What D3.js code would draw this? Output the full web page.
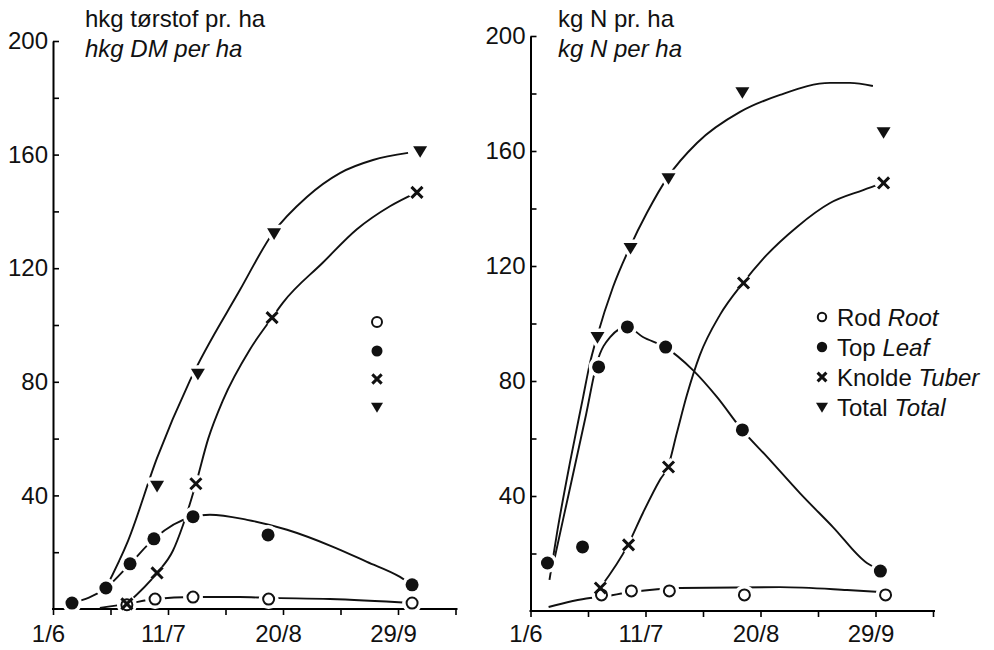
<!DOCTYPE html>
<html>
<head>
<meta charset="utf-8">
<script src="https://cdn.jsdelivr.net/npm/d3@7"></script>
<style>
body { margin: 0; background: #fff; }
svg text { font-family: "Liberation Sans", Arial, Helvetica, sans-serif; fill: #111; }
</style>
</head>
<body>
<div id="chart"></div>
<script>
// x = days after 1 June
var tickDays = [0, 40, 80, 120];
var tickLabels = ["1/6", "11/7", "20/8", "29/9"];
var yLabels = [40, 80, 120, 160, 200];

// left panel: hkg dry matter per ha (measured points)
var dmRootDays  = [25.7, 35.5, 48.7, 75.0, 124.9];
var dmRootVals  = [1.5, 3.5, 4.2, 3.5, 2.1];
var dmLeafDays  = [6.6, 18.4, 26.8, 35.1, 48.7, 74.8, 124.9];
var dmLeafVals  = [2.1, 7.4, 15.9, 24.7, 32.5, 26.1, 8.5];
var dmTuberDays = [25.7, 36.2, 49.7, 76.2, 126.6];
var dmTuberVals = [1.8, 12.7, 44.1, 102.6, 146.7];
var dmTotalDays = [36.2, 50.4, 76.9, 127.7];
var dmTotalVals = [43.4, 82.9, 132.3, 161.2];

// left panel: hand drawn curves
var dmRootFitDays  = [16.3, 25.7, 35.5, 48.7, 65, 75, 96.3, 124.9];
var dmRootFitVals  = [0.4, 1.8, 3.5, 4.2, 4.2, 3.9, 3.5, 2.1];
var dmLeafFitDays  = [6.6, 18.4, 26.8, 35.1, 48.7, 54.6, 67.5, 81.4, 97.4, 109.2, 120.7, 124.9];
var dmLeafFitVals  = [2.1, 7.4, 15.9, 24.7, 32.5, 33.2, 31.4, 27.9, 21.9, 16.6, 11.3, 8.5];
var dmTuberFitDays = [25.7, 36.2, 41.7, 45.2, 49.7, 54.0, 59.1, 68.5, 76.2, 80.0, 93.9, 105.7, 117.2, 126.6];
var dmTuberFitVals = [1.8, 12.7, 20.5, 29.5, 44.1, 60.0, 73.5, 91.4, 102.6, 107.9, 122.0, 133.7, 141.8, 146.7];
var dmTotalFitDays = [18.4, 26.1, 36.2, 47.7, 65.0, 76.5, 88.3, 99.8, 111.3, 123.5];
var dmTotalFitVals = [7.4, 24.0, 53.2, 80.6, 112.3, 132.4, 145.1, 153.5, 158.1, 160.6];

// right panel: kg N per ha (measured points)
var nRootDays  = [24.7, 35.1, 48.3, 74.4, 123.5];
var nRootVals  = [5.6, 7.0, 7.0, 5.6, 5.6];
var nLeafDays  = [5.9, 18.1, 23.7, 33.7, 47.0, 73.7, 121.7];
var nLeafVals  = [16.7, 22.3, 84.9, 98.8, 91.8, 63.0, 13.9];
var nTuberDays = [24.3, 34.1, 48.0, 74.1, 122.8];
var nTuberVals = [8.0, 23.0, 50.1, 114.1, 148.9];
var nTotalDays = [23.3, 34.8, 48.0, 73.7, 122.8];
var nTotalVals = [95.3, 126.3, 150.6, 180.5, 166.6];

// right panel: curves
var nRootFitDays  = [6.3, 20.7, 24.5, 35.0, 52.0, 86.8, 110.1, 121.6];
var nRootFitVals  = [1.4, 4.5, 4.9, 6.6, 8.0, 8.3, 7.3, 6.6];
var nLeafFitDays  = [7.5, 11.3, 19.3, 23.1, 27.7, 33.6, 39.1, 46.8, 56.5, 64.9, 73.6, 82.3, 93.7, 105.2, 117.0, 121.6];
var nLeafFitVals  = [14.3, 31.7, 68.2, 86.3, 95.3, 98.8, 95.3, 91.8, 83.8, 74.4, 63.0, 53.6, 41.0, 29.2, 16.7, 14.3];
var nTuberFitDays = [24.2, 33.9, 39.1, 45.0, 47.8, 50.9, 54.4, 58.9, 65.9, 73.9, 80.9, 92.7, 104.2, 115.7, 122.6];
var nTuberFitVals = [8.0, 23.0, 34.1, 45.6, 50.1, 61.9, 75.1, 89.0, 103.0, 114.1, 122.5, 133.6, 141.9, 146.4, 148.9];
var nTotalFitDays = [6.6, 9.4, 13.7, 18.3, 20.7, 23.1, 28.7, 34.6, 40.5, 47.8, 57.9, 72.9, 86.8, 104.2, 111.1, 119.1];
var nTotalFitVals = [10.8, 28.2, 51.5, 74.4, 86.3, 95.3, 112.7, 126.6, 138.5, 151.0, 162.8, 173.6, 179.5, 183.7, 183.7, 182.6];

var legendNames = ["Rod", "Top", "Knolde", "Total"];
var legendNamesEn = ["Root", "Leaf", "Tuber", "Total"];
var legendTypes = ["open", "dot", "cross", "tri"];

var svg = d3.select("#chart").append("svg")
    .attr("width", 994)
    .attr("height", 650)
    .style("background", "#fff");

// draw one marker symbol, optionally as a white halo
function marker(g, type, cx, cy, s, halo) {
    var col = halo ? "#fff" : "#111";
    var extra = halo ? 7 : 0;
    if (type === "open") {
        g.append("circle").attr("cx", cx).attr("cy", cy).attr("r", s)
            .attr("fill", "#fff").attr("stroke", col).attr("stroke-width", 2 + extra);
    } else if (type === "dot") {
        g.append("circle").attr("cx", cx).attr("cy", cy).attr("r", s)
            .attr("fill", col).attr("stroke", col).attr("stroke-width", extra);
    } else if (type === "cross") {
        var h = s * 0.85;
        g.append("path")
            .attr("d", "M" + (cx - h) + "," + (cy - h) + "L" + (cx + h) + "," + (cy + h) +
                       "M" + (cx - h) + "," + (cy + h) + "L" + (cx + h) + "," + (cy - h))
            .attr("stroke", col).attr("stroke-width", 3 + extra).attr("fill", "none");
    } else {
        g.append("path")
            .attr("d", "M" + (cx - s) + "," + (cy - 0.7 * s) + "L" + (cx + s) + "," + (cy - 0.7 * s) +
                       "L" + cx + "," + (cy + 0.95 * s) + "Z")
            .attr("fill", col).attr("stroke", col).attr("stroke-width", extra).attr("stroke-linejoin", "round");
    }
}

function draw_panel(p) {
    var x = d3.scaleLinear().domain([0, 140]).range([p.left, p.left + 140 * 2.875]);
    var y = d3.scaleLinear().domain([0, 200]).range([p.bottom, p.top]);
    var g = svg.append("g");

    // y axis, ticks inside
    var ya = g.append("g")
        .attr("transform", "translate(" + p.left + ",0)")
        .call(d3.axisLeft(y)
            .tickValues(d3.range(20, 201, 20))
            .tickSize(-6)
            .tickSizeOuter(0)
            .tickPadding(5)
            .tickFormat(function (d) { return yLabels.indexOf(d) >= 0 ? d : ""; }));
    ya.select(".domain").attr("stroke-width", 2);
    ya.selectAll(".tick line").attr("stroke-width", 1.6);
    ya.selectAll("text").style("font-size", "24px").attr("fill", "#111");

    // x axis
    var xa = g.append("g")
        .attr("transform", "translate(0," + p.bottom + ")")
        .call(d3.axisBottom(x)
            .tickValues(d3.range(0, 141, 20))
            .tickSize(6)
            .tickSizeOuter(0)
            .tickPadding(p.xpad)
            .tickFormat(function (d) {
                var i = tickDays.indexOf(d);
                return i >= 0 ? tickLabels[i] : "";
            }));
    xa.select(".domain").attr("stroke-width", 2)
        .attr("d", "M" + (p.left - 1) + ",0H" + (x(140) + 2));
    xa.selectAll(".tick line").attr("stroke-width", 1.6);
    xa.selectAll("text").style("font-size", "24px").attr("fill", "#111").attr("dx", -5);

    // titles
    g.append("text").attr("x", p.titleX).attr("y", 27)
        .style("font-size", "24px").text(p.title1);
    g.append("text").attr("x", p.titleX).attr("y", 57)
        .style("font-size", "24px").style("font-style", "italic").text(p.title2);

    var line = d3.line()
        .x(function (d) { return x(d[0]); })
        .y(function (d) { return y(d[1]); })
        .curve(d3.curveMonotoneX);

    p.curves.forEach(function (c) {
        g.append("path")
            .datum(d3.zip(c[0], c[1]))
            .attr("d", line)
            .attr("fill", "none")
            .attr("stroke", "#111")
            .attr("stroke-width", 1.9);
    });

    // halos first so the lines break around the symbols
    [true, false].forEach(function (halo) {
        p.points.forEach(function (s) {
            d3.zip(s.days, s.vals).forEach(function (d) {
                marker(g, s.type, x(d[0]), y(d[1]), s.size, halo);
            });
        });
    });
}

draw_panel({
    left: 53, top: 41, bottom: 609, xpad: 10, titleX: 85,
    title1: "hkg tørstof pr. ha", title2: "hkg DM per ha",
    curves: [
        [dmRootFitDays, dmRootFitVals],
        [dmLeafFitDays, dmLeafFitVals],
        [dmTuberFitDays, dmTuberFitVals],
        [dmTotalFitDays, dmTotalFitVals]
    ],
    points: [
        { type: "open", size: 5.5, days: dmRootDays, vals: dmRootVals },
        { type: "dot", size: 6.5, days: dmLeafDays, vals: dmLeafVals },
        { type: "cross", size: 6.5, days: dmTuberDays, vals: dmTuberVals },
        { type: "tri", size: 7, days: dmTotalDays, vals: dmTotalVals }
    ]
});

draw_panel({
    left: 530.5, top: 36, bottom: 611, xpad: 8, titleX: 558,
    title1: "kg N pr. ha", title2: "kg N per ha",
    curves: [
        [nRootFitDays, nRootFitVals],
        [nLeafFitDays, nLeafFitVals],
        [nTuberFitDays, nTuberFitVals],
        [nTotalFitDays, nTotalFitVals]
    ],
    points: [
        { type: "open", size: 5.5, days: nRootDays, vals: nRootVals },
        { type: "dot", size: 6.5, days: nLeafDays, vals: nLeafVals },
        { type: "cross", size: 6.5, days: nTuberDays, vals: nTuberVals },
        { type: "tri", size: 7, days: nTotalDays, vals: nTotalVals }
    ]
});

// left legend: symbols only
var leftLegendY = [322, 351, 379, 407];
legendTypes.forEach(function (t, i) {
    marker(svg, t, 377, leftLegendY[i], t === "open" ? 5 : (t === "tri" ? 6 : 5.5), false);
});

// right legend with names
var rightLegendY = [317, 347, 377, 407];
legendTypes.forEach(function (t, i) {
    marker(svg, t, 822, rightLegendY[i], t === "open" ? 4.2 : (t === "tri" ? 6 : 5.2), false);
    var txt = svg.append("text")
        .attr("x", 837)
        .attr("y", rightLegendY[i] + 8.5)
        .style("font-size", "24px");
    txt.append("tspan").text(legendNames[i] + " ");
    txt.append("tspan").style("font-style", "italic").text(legendNamesEn[i]);
});
</script>
</body>
</html>
